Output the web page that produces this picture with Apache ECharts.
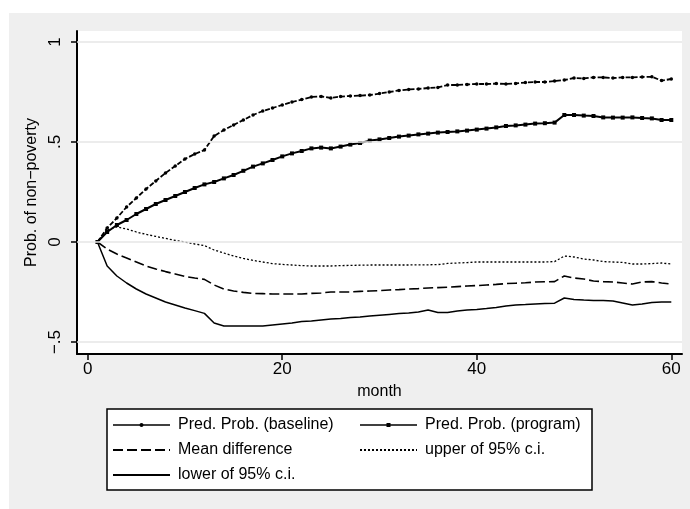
<!DOCTYPE html>
<html>
<head>
<meta charset="utf-8">
<script src="https://cdn.jsdelivr.net/npm/echarts@6/dist/echarts.min.js"></script>
<style>
html,body{margin:0;padding:0;background:#fff;}
#chart{width:690px;height:509px;}
</style>
</head>
<body>
<div id="chart"></div>
<script>
var months = [];
for (var i = 1; i <= 60; i++) months.push(i);

var baseline = [0,0.07,0.12,0.175,0.22,0.265,0.305,0.345,0.38,0.415,0.44,0.46,0.53,0.56,0.585,0.61,0.635,0.655,0.67,0.685,
0.70,0.712,0.725,0.728,0.72,0.727,0.73,0.732,0.735,0.742,0.75,0.758,0.763,0.765,0.77,0.773,0.785,0.785,0.788,0.79,
0.79,0.792,0.79,0.793,0.797,0.80,0.80,0.805,0.81,0.82,0.818,0.823,0.823,0.82,0.823,0.823,0.825,0.826,0.807,0.815];

var program = [0,0.05,0.085,0.11,0.14,0.165,0.19,0.21,0.23,0.25,0.27,0.288,0.30,0.318,0.335,0.356,0.377,0.393,0.41,0.428,
0.443,0.455,0.468,0.472,0.468,0.477,0.487,0.495,0.507,0.513,0.52,0.527,0.532,0.538,0.542,0.547,0.55,0.553,0.557,0.562,
0.567,0.573,0.58,0.583,0.587,0.592,0.594,0.597,0.635,0.635,0.632,0.63,0.623,0.622,0.622,0.623,0.62,0.618,0.61,0.61];

var meanDiff = [0,-0.035,-0.06,-0.08,-0.1,-0.12,-0.135,-0.148,-0.16,-0.172,-0.18,-0.187,-0.215,-0.235,-0.245,-0.252,-0.257,-0.258,-0.26,-0.26,
-0.26,-0.26,-0.257,-0.255,-0.25,-0.25,-0.25,-0.247,-0.245,-0.243,-0.24,-0.238,-0.235,-0.233,-0.23,-0.228,-0.226,-0.223,-0.22,-0.218,
-0.215,-0.212,-0.208,-0.206,-0.204,-0.2,-0.199,-0.198,-0.17,-0.18,-0.185,-0.195,-0.198,-0.2,-0.205,-0.21,-0.2,-0.198,-0.205,-0.21];

var upperCI = [0,0.06,0.075,0.065,0.05,0.038,0.028,0.018,0.008,0.0,-0.01,-0.018,-0.04,-0.055,-0.07,-0.082,-0.092,-0.1,-0.108,-0.112,
-0.115,-0.118,-0.12,-0.12,-0.12,-0.118,-0.117,-0.116,-0.115,-0.115,-0.115,-0.115,-0.115,-0.114,-0.114,-0.113,-0.107,-0.105,-0.103,-0.1,
-0.1,-0.1,-0.1,-0.1,-0.1,-0.1,-0.1,-0.098,-0.07,-0.075,-0.085,-0.09,-0.098,-0.1,-0.102,-0.11,-0.11,-0.108,-0.105,-0.11];

var lowerCI = [0,-0.12,-0.17,-0.205,-0.235,-0.26,-0.28,-0.3,-0.315,-0.33,-0.343,-0.357,-0.405,-0.42,-0.42,-0.42,-0.42,-0.42,-0.415,-0.41,
-0.405,-0.398,-0.395,-0.39,-0.385,-0.382,-0.378,-0.375,-0.37,-0.366,-0.362,-0.358,-0.355,-0.35,-0.34,-0.352,-0.353,-0.345,-0.34,-0.337,
-0.333,-0.328,-0.32,-0.315,-0.313,-0.31,-0.308,-0.306,-0.28,-0.287,-0.29,-0.292,-0.293,-0.295,-0.305,-0.315,-0.31,-0.302,-0.30,-0.30];

var xTicks = [0, 20, 40, 60];
var yTicks = [-0.5, 0, 0.5, 1];
var yTickLabels = {'-0.5': '\u2212.5', '0': '0', '0.5': '.5', '1': '1'};

var names = ['Pred. Prob. (baseline)', 'Pred. Prob. (program)', 'Mean difference', 'upper of 95% c.i.', 'lower of 95% c.i.'];

function pairs(arr) { return arr.map(function (v, i) { return [months[i], v]; }); }

var FONT = 'Liberation Sans, Arial, Helvetica, sans-serif';
var chart = echarts.init(document.getElementById('chart'), null, {renderer: 'canvas'});

var legendText = {fontFamily: FONT, fontSize: 16, color: '#000', padding: [0, 0, 0, 3]};
var noMarker = {opacity: 0};

var option = {
  animation: false,
  backgroundColor: '#ffffff',
  graphic: [
    {type: 'rect', z: -10, shape: {x: 9, y: 13, width: 681, height: 496}, style: {fill: '#efefef'}},
    {type: 'rect', z: 0, shape: {x: 107, y: 409, width: 485, height: 81}, style: {fill: '#ffffff', stroke: '#000', lineWidth: 1.5}}
  ],
  grid: {left: 77, top: 31, width: 605, height: 323, show: true, backgroundColor: '#ffffff', borderWidth: 0, containLabel: false},
  xAxis: {
    type: 'value', min: -1.1, max: 61.1,
    name: 'month', nameLocation: 'middle', nameGap: 30,
    nameTextStyle: {fontFamily: FONT, fontSize: 16, color: '#000'},
    axisLine: {show: true, onZero: false, lineStyle: {color: '#000', width: 2}},
    axisTick: {show: true, customValues: xTicks, length: 6, lineStyle: {color: '#000', width: 1.5}},
    axisLabel: {customValues: xTicks, fontFamily: FONT, fontSize: 17, color: '#000', margin: 7},
    splitLine: {show: false}
  },
  yAxis: {
    type: 'value', min: -0.56, max: 1.055,
    name: 'Prob. of non\u2212poverty', nameLocation: 'middle', nameGap: 34,
    nameTextStyle: {fontFamily: FONT, fontSize: 16, color: '#000'},
    axisLine: {show: true, onZero: false, lineStyle: {color: '#000', width: 2}},
    axisTick: {show: true, customValues: yTicks, length: 6, lineStyle: {color: '#000', width: 1.5}},
    axisLabel: {customValues: yTicks, rotate: 90, fontFamily: FONT, fontSize: 17, color: '#000', margin: 13,
      formatter: function (v) { var k = String(Math.round(v * 10) / 10); return yTickLabels[k] !== undefined ? yTickLabels[k] : ''; }},
    splitLine: {show: false}
  },
  legend: [
    {left: 112, top: 417, orient: 'vertical', padding: 0, itemWidth: 57, itemHeight: 5, itemGap: 9,
     data: [
       {name: names[0], lineStyle: {type: 'solid', width: 1.3}},
       {name: names[2], itemStyle: noMarker},
       {name: names[4], itemStyle: noMarker}
     ], textStyle: legendText, z: 5},
    {left: 359, top: 417, orient: 'vertical', padding: 0, itemWidth: 57, itemHeight: 5, itemGap: 9,
     data: [
       {name: names[1], lineStyle: {width: 1.3}},
       {name: names[3], itemStyle: noMarker}
     ], textStyle: legendText, z: 5}
  ],
  series: [
    {name: 'grid', type: 'line', data: [], silent: true, z: 1,
     markLine: {silent: true, symbol: ['none', 'none'], label: {show: false},
       lineStyle: {color: '#e6e6e6', width: 1.5, type: 'solid'},
       data: yTicks.map(function (v) { return {yAxis: v}; })}},
    {name: names[0], type: 'line', data: pairs(baseline), z: 3, symbol: 'circle', symbolSize: 3.5,
     itemStyle: {color: '#000'}, lineStyle: {color: '#000', width: 1.8, type: [5, 2]}},
    {name: names[1], type: 'line', data: pairs(program), z: 3, symbol: 'rect', symbolSize: 4,
     itemStyle: {color: '#000'}, lineStyle: {color: '#000', width: 2}},
    {name: names[2], type: 'line', data: pairs(meanDiff), z: 3, symbol: 'none',
     itemStyle: {color: '#000'}, lineStyle: {color: '#000', width: 1.6, type: [10, 4]}},
    {name: names[3], type: 'line', data: pairs(upperCI), z: 3, symbol: 'none',
     itemStyle: {color: '#000'}, lineStyle: {color: '#000', width: 1.3, type: [2, 2]}},
    {name: names[4], type: 'line', data: pairs(lowerCI), z: 3, symbol: 'none',
     itemStyle: {color: '#000'}, lineStyle: {color: '#000', width: 1.5}}
  ]
};
chart.setOption(option);
</script>
</body>
</html>
